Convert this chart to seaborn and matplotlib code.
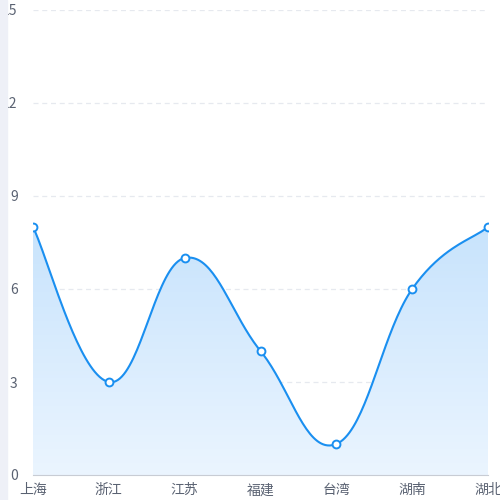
import numpy as np
import matplotlib
matplotlib.use("Agg")
import matplotlib.pyplot as plt
import seaborn as sns
from matplotlib.patches import Polygon

categories = ["上海", "浙江", "江苏", "福建", "台湾", "湖南", "湖北"]
values = [8, 3, 7, 4, 1, 6, 8]
yticks = [0, 3, 6, 9, 12, 15]

sns.set_style("white")
plt.rcParams['font.family'] = ['Noto Sans CJK SC', 'DejaVu Sans']

fig = plt.figure(figsize=(5, 5), dpi=100)
fig.patches.append(plt.Rectangle((0, 0), 0.014, 1, transform=fig.transFigure, color="#eef0f7", zorder=0))
ax = fig.add_axes([0.066, 0.05, 0.91, 0.93])

x = np.arange(len(values), dtype=float)
y = np.array(values, dtype=float)

xs, ys = [], []
n = len(x)
s = 0.2
for i in range(n - 1):
    p0 = np.array([x[max(i-1, 0)], y[max(i-1, 0)]])
    p1 = np.array([x[i], y[i]])
    p2 = np.array([x[i+1], y[i+1]])
    p3 = np.array([x[min(i+2, n-1)], y[min(i+2, n-1)]])
    c1 = p1 + (p2 - p0) * s
    c2 = p2 - (p3 - p1) * s
    t = np.linspace(0, 1, 40)[:, None]
    pts = (1-t)**3*p1 + 3*(1-t)**2*t*c1 + 3*(1-t)*t**2*c2 + t**3*p2
    xs.extend(pts[:, 0]); ys.extend(pts[:, 1])
xs = np.array(xs); ys = np.array(ys)

grad = np.linspace(0, 1, 256)[:, None]
top = np.array([0.78, 0.89, 0.99]); bot = np.array([0.92, 0.96, 1.0])
img = (top * grad + bot * (1 - grad))[:, None, :] * np.ones((1, 2, 1))
im = ax.imshow(img, extent=[0, n-1, 0, 8.2], origin="lower", aspect="auto", zorder=1)
poly = Polygon(np.column_stack([np.r_[xs, xs[-1], xs[0]], np.r_[ys, 0, 0]]), closed=True, transform=ax.transData, facecolor="none", edgecolor="none")
ax.add_patch(poly)
im.set_clip_path(poly)

ax.plot(xs, ys, color="#1a8ff0", lw=1.5, zorder=3)
sns.scatterplot(x=x, y=y, ax=ax, s=32, color="white", edgecolor="#1a8ff0", linewidth=1.4, zorder=4)

ax.set_xlim(0, n-1)
ax.set_ylim(0, 15)
ax.set_yticks(yticks)
ax.set_xticks(x)
ax.set_xticklabels(categories)
for t in yticks[1:]:
    ax.axhline(t, color="#e6e9ef", lw=0.9, ls=(0, (4, 3)), zorder=0)
for sp in ["top", "right", "left"]:
    ax.spines[sp].set_visible(False)
ax.spines["bottom"].set_color("#c8ccd4")
ax.tick_params(axis="both", labelsize=10, colors="#5a6272", length=0)
ax.tick_params(axis="y", pad=11)
ax.tick_params(axis="x", length=4, color="#c8ccd4", pad=2)
ax.set_xlabel(""); ax.set_ylabel("")
fig.savefig("out.png", dpi=100)
